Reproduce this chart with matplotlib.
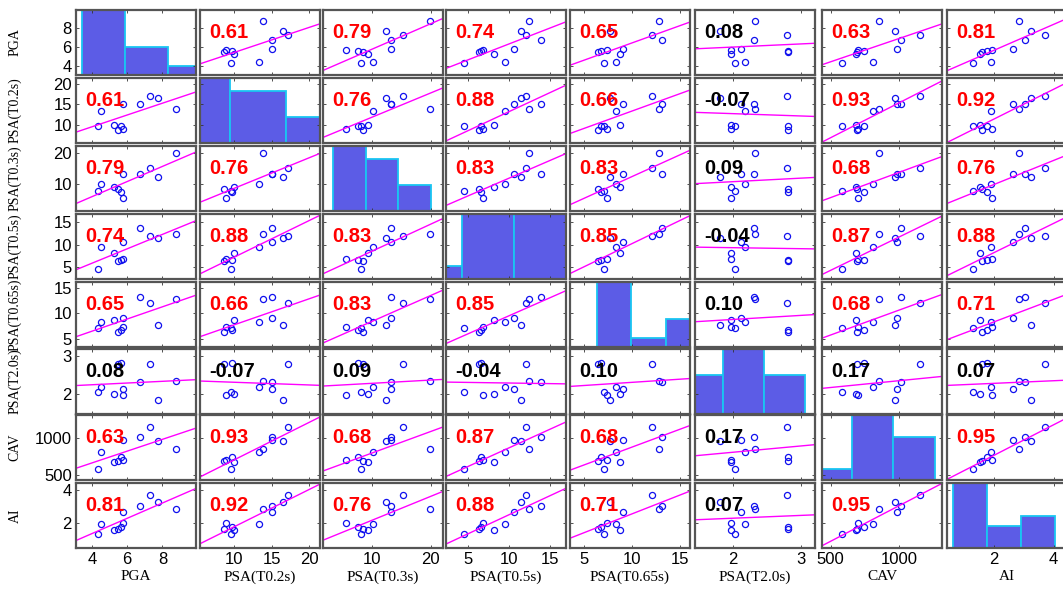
import numpy as np
import matplotlib
matplotlib.use('Agg')
import matplotlib.pyplot as plt

# ---------------- data (11 records) ----------------
names = ['PGA', 'PSA(T0.2s)', 'PSA(T0.3s)', 'PSA(T0.5s)', 'PSA(T0.65s)',
         'PSA(T2.0s)', 'CAV', 'AI']
pga    = [4.37, 4.49, 5.27, 5.46, 5.64, 5.76, 5.78, 6.71, 7.32, 7.72, 8.76]
psa02  = [9.6, 13.3, 10.0, 8.7, 9.7, 8.9, 15.1, 15.0, 17.1, 16.5, 13.8]
psa03  = [8.06, 10.1, 9.28, 8.39, 7.5, 5.6, 13.2, 13.2, 15.3, 12.4, 19.8]
psa05  = [4.5, 9.5, 8.15, 6.3, 6.5, 6.8, 10.6, 13.8, 12.0, 11.4, 12.4]
psa065 = [7.1, 8.3, 8.8, 6.4, 6.8, 7.4, 9.1, 13.2, 12.1, 7.7, 12.8]
psa20  = [2.04, 2.18, 1.98, 2.80, 2.81, 1.97, 2.12, 2.31, 2.79, 1.82, 2.33]
cav    = [585, 812, 683, 696, 741, 701, 982, 1013, 1156, 969, 853]
ai     = [1.29, 1.90, 1.54, 1.58, 1.75, 1.94, 2.65, 3.04, 3.71, 3.25, 2.83]

# correlation coefficients as printed
corr = [
    [1.00, 0.61, 0.79, 0.74, 0.65, 0.08, 0.63, 0.81],
    [0.61, 1.00, 0.76, 0.88, 0.66, -0.07, 0.93, 0.92],
    [0.79, 0.76, 1.00, 0.83, 0.83, 0.09, 0.68, 0.76],
    [0.74, 0.88, 0.83, 1.00, 0.85, -0.04, 0.87, 0.88],
    [0.65, 0.66, 0.83, 0.85, 1.00, 0.10, 0.68, 0.71],
    [0.08, -0.07, 0.09, -0.04, 0.10, 1.00, 0.17, 0.07],
    [0.63, 0.93, 0.68, 0.87, 0.68, 0.17, 1.00, 0.95],
    [0.81, 0.92, 0.76, 0.88, 0.71, 0.07, 0.95, 1.00],
]

ticks = [[4, 6, 8], [10, 15, 20], [10, 20], [5, 10, 15], [5, 10, 15],
         [2, 3], [500, 1000], [2, 4]]
hist_bins = [[4, 6, 8, 10], [8, 12, 16, 20], [5, 10, 15, 20], [0, 5, 10, 15],
             [6, 9, 12, 15], [1.5, 2, 2.5, 3], [300, 600, 900, 1200], [1, 2, 3, 4]]

# ---------------- layout / style ----------------
axis_lims = [(3.1, 9.9), (5.5, 21.4), (1.6, 22.1), (2.3, 16.9),
             (3.5, 16.1), (1.45, 3.2), (436, 1315), (0.42, 4.45)]
hist_xlim = [(3.74, 9.27), (9.86, 18.43), (3.4, 21.9), (3.46, 15.0),
             (3.65, 14.1), (1.65, 3.125), (386, 1250), (0.82, 4.35)]
col_left = [76, 200, 323, 446, 570, 695, 822, 947]
row_top = [10, 78, 146, 214, 282, 349, 415, 483]
PW, PH = 120, 65
W, H = 1063, 590

data = [np.array(v, float) for v in (pga, psa02, psa03, psa05, psa065, psa20, cav, ai)]
n = len(data)
L = axis_lims

fig = plt.figure(figsize=(W / 100, H / 100), dpi=100)
fig.patch.set_facecolor('white')

tick_font = dict(family='Liberation Sans', size=12)
xlab_font = dict(family='Liberation Serif', size=11)
ylab_font = dict(family='Liberation Serif', size=10)

def rect(i, j):
    return [col_left[j] / W, 1 - (row_top[i] + PH) / H, PW / W, PH / H]

for i in range(n):
    for j in range(n):
        r = rect(i, j)
        if i == j:
            hx = fig.add_axes(r, zorder=0)
            hx.hist(data[i], bins=hist_bins[i], color='#5c5ce6',
                    edgecolor='#19c6f2', linewidth=1.3)
            cnt, _ = np.histogram(data[i], bins=hist_bins[i])
            hx.set_xlim(*hist_xlim[i])
            hx.set_ylim(0, cnt.max())
            hx.axis('off')
        ax = fig.add_axes(r, zorder=1)
        ax.patch.set_alpha(0)
        ax.set_xlim(*L[j])
        ax.set_ylim(*L[i])
        if i != j:
            x, y = data[j], data[i]
            ax.plot(x, y, 'o', mfc='none', mec='#1010ee', ms=4.4, mew=0.9)
            p = np.polyfit(x, y, 1)
            xx = np.array(L[j])
            ax.plot(xx, np.polyval(p, xx), color='#ff00ff', lw=1.0)
            c = corr[i][j]
            col = 'red' if abs(c) > 0.6 else 'black'
            ax.text(0.08, 0.65, f'{c:.2f}', transform=ax.transAxes,
                    color=col, fontsize=14.5, fontweight='bold',
                    family='Liberation Sans', va='center', ha='left')
        ax.set_xticks(ticks[j])
        ax.set_yticks(ticks[i])
        ax.tick_params(direction='in', length=2.5, width=0.6, top=True,
                       right=True, color='#333333', pad=3)
        if i == n - 1:
            ax.set_xticklabels([str(t) for t in ticks[j]], **tick_font)
        else:
            ax.set_xticklabels([])
        if j == 0:
            ax.set_yticklabels([str(t) for t in ticks[i]], **tick_font)
        else:
            ax.set_yticklabels([])
        for s in ax.spines.values():
            s.set_color('#555555')
            s.set_linewidth(1.6)

# axis labels
for k, nm in enumerate(names):
    cx = (col_left[k] + PW / 2) / W
    fig.text(cx, (H - 577) / H, nm, ha='center', va='center', **xlab_font)
    cy = 1 - (row_top[k] + PH / 2) / H
    fig.text(15 / W, cy, nm, ha='center', va='center', rotation=90, **ylab_font)

fig.savefig('out.png', dpi=100, facecolor='white')
